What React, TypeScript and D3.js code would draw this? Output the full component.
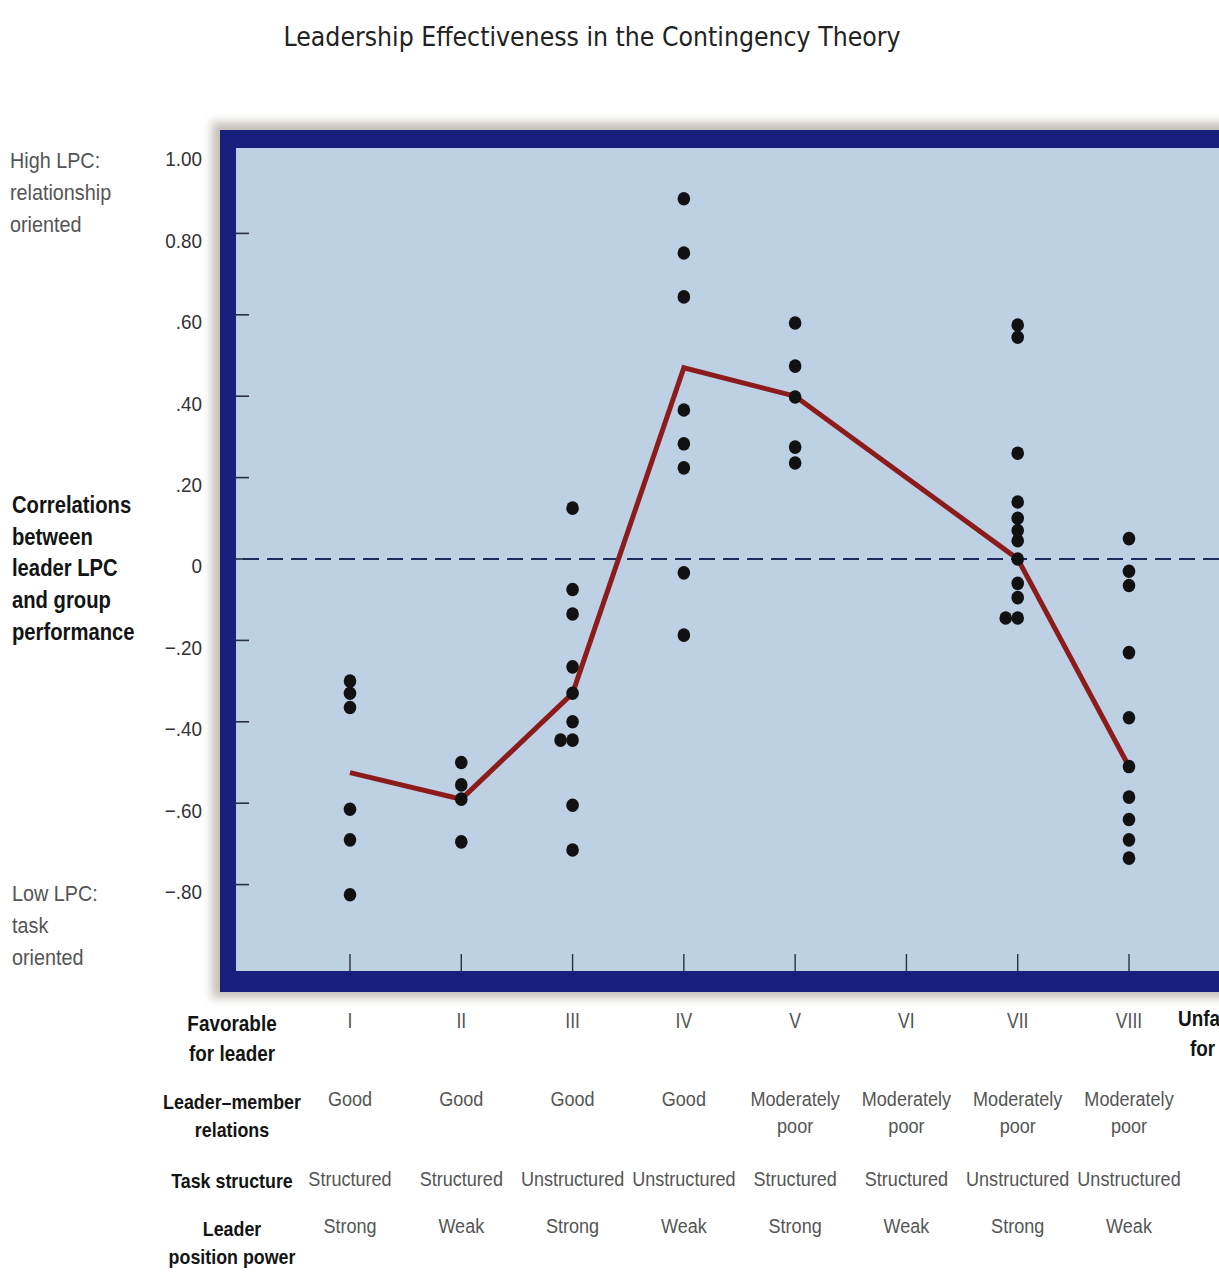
import React from 'react';
import * as d3 from 'd3';

// octant names along the bottom
const octants = ['I', 'II', 'III', 'IV', 'V', 'VI', 'VII', 'VIII'];

// correlations between leader LPC and group performance, one list per octant
const octantI = [-0.3, -0.33, -0.365, -0.615, -0.69, -0.825];
const octantII = [-0.5, -0.555, -0.59, -0.695];
const octantIII = [0.125, -0.075, -0.135, -0.265, -0.33, -0.4, -0.445, -0.445, -0.605, -0.715];
const octantIV = [0.885, 0.752, 0.644, 0.366, 0.283, 0.224, -0.034, -0.187];
const octantV = [0.58, 0.474, 0.398, 0.275, 0.236];
const octantVI: number[] = [];
const octantVII = [0.575, 0.545, 0.26, 0.14, 0.1, 0.07, 0.045, 0.0, -0.06, -0.095, -0.145, -0.145];
const octantVIII = [0.05, -0.03, -0.065, -0.23, -0.39, -0.51, -0.585, -0.64, -0.69, -0.735];
const correlations = [octantI, octantII, octantIII, octantIV, octantV, octantVI, octantVII, octantVIII];

// median line (no value for octant VI)
const medians: (number | null)[] = [-0.525, -0.59, -0.33, 0.47, 0.4, null, 0.0, -0.51];

const yTicks = [1.0, 0.8, 0.6, 0.4, 0.2, 0, -0.2, -0.4, -0.6, -0.8];
const yTickLabels = ['1.00', '0.80', '.60', '.40', '.20', '0', '\u2212.20', '\u2212.40', '\u2212.60', '\u2212.80'];

const relations = ['Good', 'Good', 'Good', 'Good', 'Moderately|poor', 'Moderately|poor', 'Moderately|poor', 'Moderately|poor'];
const taskStructure = ['Structured', 'Structured', 'Unstructured', 'Unstructured', 'Structured', 'Structured', 'Unstructured', 'Unstructured'];
const positionPower = ['Strong', 'Weak', 'Strong', 'Weak', 'Strong', 'Weak', 'Strong', 'Weak'];

const W = 1219;
const H = 1273;
const NAVY = '#17207c';
const PANEL = '#bdd0e4';
const FONT = '"Liberation Sans", Arial, sans-serif';

const x = d3.scaleLinear().domain([0, 7]).range([350, 1129]);
const y = d3.scaleLinear().domain([0, 1]).range([559, 152]);

const Label = ({ cx, cy, text, size = 21, bold = false, fill = '#555', anchor = 'middle', sx = 0.86 }: any) => (
  <text
    transform={`translate(${cx},${cy}) scale(${sx},1)`}
    textAnchor={anchor}
    dy="0.35em"
    fontFamily={FONT}
    fontSize={size}
    fontWeight={bold ? 'bold' : 'normal'}
    fill={fill}
  >
    {text}
  </text>
);

export default function App() {
  // dodge repeated values inside an octant
  const dots: { cx: number; cy: number }[] = [];
  correlations.forEach((vals, i) => {
    const seen = new Map<number, number>();
    vals.forEach(v => {
      const n = seen.get(v) || 0;
      seen.set(v, n + 1);
      dots.push({ cx: x(i) - n * 12, cy: y(v) });
    });
  });

  const line = d3.line<[number, number]>()
    .x(d => x(d[0]))
    .y(d => y(d[1]));
  const medianPts = medians
    .map((m, i) => [i, m] as [number, number | null])
    .filter(d => d[1] !== null) as [number, number][];

  return (
    <svg width={W} height={H} style={{ position: 'absolute', left: 0, top: 0, background: '#fff' }}>
      <defs>
        <filter id="shadow" x="-5%" y="-5%" width="110%" height="110%">
          <feGaussianBlur stdDeviation="5" />
        </filter>
      </defs>

      {/* title */}
      <text x={592} y={37} dy="0.35em" textAnchor="middle" fontFamily={'"DejaVu Sans Condensed", "DejaVu Sans", sans-serif'}
        fontSize={26} fill="#222" textLength={617} lengthAdjust="spacingAndGlyphs">
        Leadership Effectiveness in the Contingency Theory
      </text>

      {/* frame */}
      <rect x={212} y={122} width={1100} height={876} fill="#a09488" opacity={0.6} filter="url(#shadow)" />
      <rect x={220} y={130} width={1100} height={862} fill={NAVY} />
      <rect x={236} y={148} width={1100} height={823} fill={PANEL} />

      {/* left ticks */}
      {yTicks.filter(v => Math.abs(v) < 1).map(v => (
        <line key={v} x1={236} x2={249} y1={y(v)} y2={y(v)} stroke="#2a2f45" strokeWidth={1.6} />
      ))}

      {/* bottom ticks */}
      {octants.map((o, i) => (
        <line key={o} x1={x(i)} x2={x(i)} y1={954} y2={971} stroke="#2a2f45" strokeWidth={1.4} />
      ))}

      {/* zero line */}
      <line x1={243} x2={W} y1={y(0)} y2={y(0)} stroke="#1e2b5c" strokeWidth={2.2} strokeDasharray="16 8" />

      {/* median line */}
      <path d={line(medianPts) || ''} fill="none" stroke="#8c1c1c" strokeWidth={5} strokeLinejoin="miter" />

      {/* dots */}
      {dots.map((d, i) => (
        <ellipse key={i} cx={d.cx} cy={d.cy} rx={6.3} ry={6.8} fill="#111" />
      ))}

      {/* y tick labels */}
      {yTicks.map((v, i) => (
        <Label key={v} cx={202} cy={y(v) + 7} text={yTickLabels[i]} anchor="end" fill="#333" sx={0.9} />
      ))}

      {/* left side labels */}
      {['High LPC:', 'relationship', 'oriented'].map((t, i) => (
        <Label key={t} cx={10} cy={160 + i * 32} text={t} size={22} anchor="start" fill="#555" sx={0.9} />
      ))}
      {['Correlations', 'between', 'leader LPC', 'and group', 'performance'].map((t, i) => (
        <Label key={t} cx={12} cy={505 + i * 31.7} text={t} size={23} bold anchor="start" fill="#141414" sx={0.88} />
      ))}
      {['Low LPC:', 'task', 'oriented'].map((t, i) => (
        <Label key={t} cx={12} cy={893 + i * 32} text={t} size={22} anchor="start" fill="#555" sx={0.9} />
      ))}

      {/* bottom table row headers */}
      <Label cx={232} cy={1023} text="Favorable" size={22} bold fill="#141414" sx={0.86} />
      <Label cx={232} cy={1053} text="for leader" size={22} bold fill="#141414" sx={0.86} />
      <Label cx={1178} cy={1018} text="Unfavorable" size={22} bold anchor="start" fill="#141414" sx={0.86} />
      <Label cx={1190} cy={1048} text="for leader" size={22} bold anchor="start" fill="#141414" sx={0.86} />
      <Label cx={232} cy={1102} text={'Leader\u2013member'} size={21} bold fill="#141414" sx={0.85} />
      <Label cx={232} cy={1130} text="relations" size={21} bold fill="#141414" sx={0.85} />
      <Label cx={232} cy={1181} text="Task structure" size={21} bold fill="#141414" sx={0.85} />
      <Label cx={232} cy={1229} text="Leader" size={21} bold fill="#141414" sx={0.85} />
      <Label cx={232} cy={1257} text="position power" size={21} bold fill="#141414" sx={0.85} />

      {/* octant columns */}
      {octants.map((o, i) => {
        const rel = relations[i].split('|');
        return (
          <g key={o}>
            <Label cx={x(i)} cy={1020} text={o} size={22} fill="#555" sx={0.8} />
            {rel.map((t, j) => (
              <Label key={t} cx={x(i)} cy={1099 + j * 27} text={t} size={21} fill="#555" sx={0.86} />
            ))}
            <Label cx={x(i)} cy={1179} text={taskStructure[i]} size={21} fill="#555" sx={0.86} />
            <Label cx={x(i)} cy={1226} text={positionPower[i]} size={21} fill="#555" sx={0.86} />
          </g>
        );
      })}
    </svg>
  );
}
